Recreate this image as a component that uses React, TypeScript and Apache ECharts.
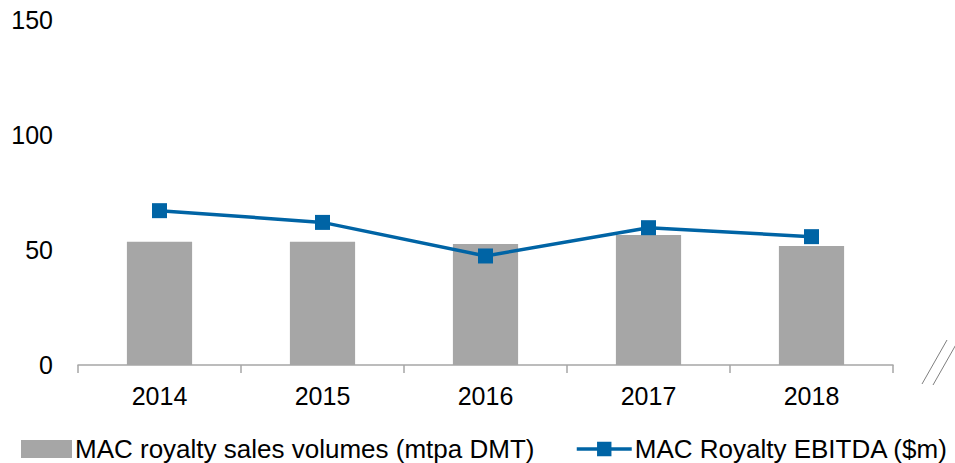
import React, { useEffect, useRef } from "react";
import * as echarts from "echarts";

const categories = ["2014", "2015", "2016", "2017", "2018"];
const salesVolumes = [53.6, 53.6, 52.6, 56.5, 51.7];
const ebitda = [67.1, 62.0, 47.4, 59.7, 55.8];
const yTicks = { min: 0, max: 150, interval: 50 };

const FONT = "'Liberation Sans', Arial, sans-serif";

export default function App() {
  const ref = useRef<HTMLDivElement>(null);
  useEffect(() => {
    if (!ref.current) return;
    const chart = echarts.init(ref.current, null, { renderer: "svg" });
    chart.setOption({
      animation: false,
      textStyle: { fontFamily: FONT },
      grid: { left: 78, right: 62, top: 20, bottom: 98, containLabel: false },
      legend: [
        {
          data: [{ name: "MAC royalty sales volumes (mtpa DMT)", icon: "rect" }],
          left: 21,
          top: 436,
          padding: 0,
          itemWidth: 51,
          itemHeight: 18,
          itemGap: 4,
          textStyle: { fontSize: 26, color: "#000", fontFamily: FONT, padding: [0, 0, 0, -2] },
        },
        {
          data: ["MAC Royalty EBITDA ($m)"],
          left: 575,
          top: 436,
          padding: 0,
          itemWidth: 55,
          itemHeight: 18,
          itemGap: 4,
          itemStyle: { color: "#0064a5" },
          lineStyle: { width: 3.5, color: "#0064a5" },
          textStyle: { fontSize: 26, color: "#000", fontFamily: FONT, padding: [0, 0, 0, -2] },
        },
      ],
      xAxis: {
        type: "category",
        data: categories,
        boundaryGap: true,
        axisLine: { show: true, lineStyle: { color: "#a6a6a6", width: 1.5 } },
        axisTick: { show: true, length: 8, alignWithLabel: false, lineStyle: { color: "#a6a6a6", width: 1.5 } },
        axisLabel: { fontSize: 25, color: "#000", margin: 18, fontFamily: FONT },
      },
      yAxis: {
        type: "value",
        min: yTicks.min,
        max: yTicks.max,
        interval: yTicks.interval,
        axisLine: { show: false },
        axisTick: { show: false },
        splitLine: { show: false },
        axisLabel: { fontSize: 25, color: "#000", margin: 25, fontFamily: FONT },
      },
      series: [
        {
          name: "MAC royalty sales volumes (mtpa DMT)",
          type: "bar",
          data: salesVolumes,
          barWidth: "40%",
          itemStyle: { color: "#a6a6a6" },
        },
        {
          name: "MAC Royalty EBITDA ($m)",
          type: "line",
          data: ebitda,
          symbol: "rect",
          symbolSize: 15,
          lineStyle: { color: "#0064a5", width: 3.5 },
          itemStyle: { color: "#0064a5" },
        },
      ],
      graphic: [
        {
          type: "line",
          shape: { x1: 922, y1: 384, x2: 947, y2: 340 },
          style: { stroke: "#7f7f7f", lineWidth: 1 },
        },
        {
          type: "line",
          shape: { x1: 933, y1: 385, x2: 958, y2: 341 },
          style: { stroke: "#7f7f7f", lineWidth: 1 },
        },
      ],
    });
    return () => chart.dispose();
  }, []);
  return <div ref={ref} style={{ width: 955, height: 463, position: "absolute", left: 0, top: 0 }} />;
}
